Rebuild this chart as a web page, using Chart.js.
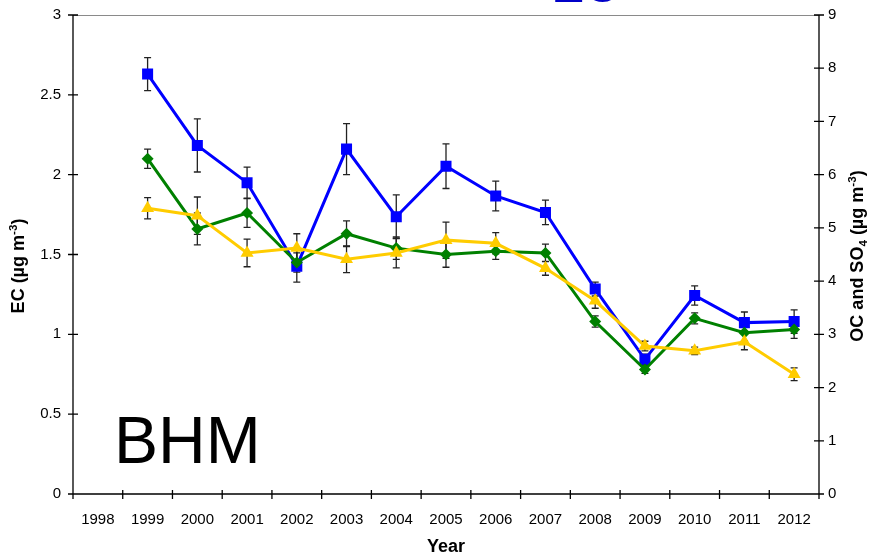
<!DOCTYPE html>
<html>
<head>
<meta charset="utf-8">
<title>BHM</title>
<script src="https://cdn.jsdelivr.net/npm/chart.js@4.4.1/dist/chart.umd.min.js"></script>
<style>
  html, body { margin: 0; padding: 0; background: #fff; }
  #wrap { width: 873px; height: 556px; }
</style>
</head>
<body>
<div id="wrap"><canvas id="bhmChart" width="873" height="556"></canvas></div>
<script>
// ===== DATA =====
const years = ['1998', '1999', '2000', '2001', '2002', '2003', '2004', '2005',
               '2006', '2007', '2008', '2009', '2010', '2011', '2012'];

// EC on the left axis
const ecValues = [null, 2.10, 1.66, 1.76, 1.45, 1.63, 1.54, 1.50, 1.52, 1.51, 1.08, 0.78, 1.10, 1.01, 1.03];
const ecErrors = [null, 0.06, 0.10, 0.09, 0.06, 0.08, 0.07, 0.08, 0.05, 0.055, 0.035, 0.025, 0.035, 0.05, 0.055];

// OC and SO4 on the right axis
const ocValues = [null, 7.89, 6.55, 5.85, 4.28, 6.48, 5.21, 6.16, 5.60, 5.29, 3.85, 2.53, 3.73, 3.22, 3.24];
const ocErrors = [null, 0.31, 0.50, 0.29, 0.30, 0.48, 0.41, 0.42, 0.28, 0.23, 0.13, 0.10, 0.18, 0.20, 0.22];
const so4Values = [null, 5.37, 5.23, 4.53, 4.62, 4.41, 4.53, 4.77, 4.71, 4.24, 3.63, 2.78, 2.69, 2.86, 2.25];
const so4Errors = [null, 0.20, 0.35, 0.26, 0.27, 0.25, 0.28, 0.34, 0.20, 0.13, 0.14, 0.09, 0.07, 0.15, 0.12];

const leftTicks = [0, 0.5, 1, 1.5, 2, 2.5, 3];
const rightTicks = [0, 1, 2, 3, 4, 5, 6, 7, 8, 9];

const FONT = "Arial, 'Liberation Sans', sans-serif";

// ===== HELPERS =====
// draws text made of normal / superscript / subscript pieces, centred on (cx, cy)
function drawRich(ctx, parts, cx, cy, angle, size) {
    ctx.save();
    ctx.translate(cx, cy);
    ctx.rotate(angle);
    ctx.textBaseline = 'alphabetic';
    ctx.textAlign = 'left';
    let total = 0;
    parts.forEach(p => {
        const s = p.sup || p.sub ? size * 0.65 : size;
        ctx.font = 'bold ' + s + 'px ' + FONT;
        p.w = ctx.measureText(p.t).width;
        total += p.w;
    });
    let x = -total / 2;
    const base = size * 0.36;
    parts.forEach(p => {
        const s = p.sup || p.sub ? size * 0.65 : size;
        ctx.font = 'bold ' + s + 'px ' + FONT;
        let dy = 0;
        if (p.sup) dy = -size * 0.42;
        if (p.sub) dy = size * 0.2;
        ctx.fillText(p.t, x, base + dy);
        x += p.w;
    });
    ctx.restore();
}

// ===== PLUGINS =====
const errorBars = {
    id: 'errorBars',
    beforeDatasetsDraw(chart) {
        const ctx = chart.ctx;
        const x = chart.scales.x;
        ctx.save();
        ctx.strokeStyle = '#222';
        ctx.lineWidth = 1.3;
        chart.data.datasets.forEach(ds => {
            const y = chart.scales[ds.yAxisID];
            ds.data.forEach((v, i) => {
                if (v === null || ds.errors[i] === null) return;
                const px = x.getPixelForValue(i);
                const top = y.getPixelForValue(v + ds.errors[i]);
                const bot = y.getPixelForValue(v - ds.errors[i]);
                ctx.beginPath();
                ctx.moveTo(px, top); ctx.lineTo(px, bot);
                ctx.moveTo(px - 3.5, top); ctx.lineTo(px + 3.5, top);
                ctx.moveTo(px - 3.5, bot); ctx.lineTo(px + 3.5, bot);
                ctx.stroke();
            });
        });
        ctx.restore();
    }
};

const frame = {
    id: 'frame',
    afterDraw(chart) {
        const ctx = chart.ctx;
        const a = chart.chartArea;
        const x = chart.scales.x;
        const yl = chart.scales.yLeft;
        const yr = chart.scales.yRight;
        ctx.save();

        // top border
        ctx.strokeStyle = '#8a8a8a';
        ctx.lineWidth = 1;
        ctx.beginPath();
        ctx.moveTo(a.left, a.top + 0.5); ctx.lineTo(a.right, a.top + 0.5);
        ctx.stroke();

        // axes with crossing tick marks
        ctx.strokeStyle = '#000';
        ctx.lineWidth = 1.3;
        ctx.beginPath();
        ctx.moveTo(a.left, a.top); ctx.lineTo(a.left, a.bottom);
        ctx.moveTo(a.right, a.top); ctx.lineTo(a.right, a.bottom);
        ctx.moveTo(a.left, a.bottom); ctx.lineTo(a.right, a.bottom);
        leftTicks.forEach(t => {
            const py = yl.getPixelForValue(t);
            ctx.moveTo(a.left - 5, py); ctx.lineTo(a.left + 5, py);
        });
        rightTicks.forEach(t => {
            const py = yr.getPixelForValue(t);
            ctx.moveTo(a.right - 5, py); ctx.lineTo(a.right + 5, py);
        });
        for (let i = 0; i <= years.length; i++) {
            const px = x.getPixelForValue(i - 0.5);
            ctx.moveTo(px, a.bottom - 4); ctx.lineTo(px, a.bottom + 5);
        }
        ctx.stroke();

        // axis titles
        ctx.fillStyle = '#000';
        ctx.font = 'bold 18px ' + FONT;
        ctx.textAlign = 'center';
        ctx.textBaseline = 'alphabetic';
        ctx.fillText('Year', (a.left + a.right) / 2, 552);

        drawRich(ctx, [{ t: 'EC (µg m' }, { t: '-3', sup: true }, { t: ')' }],
            18, 266, -Math.PI / 2, 18);
        drawRich(ctx, [{ t: 'OC and SO' }, { t: '4', sub: true }, { t: ' (µg m' },
            { t: '-3', sup: true }, { t: ')' }],
            857, 256, -Math.PI / 2, 18);

        // site name
        ctx.font = '66px ' + FONT;
        ctx.textAlign = 'left';
        ctx.fillText('BHM', 114, 463);

        // heading, mostly above the page edge
        ctx.fillStyle = '#0000c8';
        ctx.font = 'bold 48px ' + FONT;
        ctx.fillText('EC', 552, 2);

        ctx.restore();
    }
};

// ===== CHART =====
const ctx = document.getElementById('bhmChart').getContext('2d');

const bhmChart = new Chart(ctx, {
    type: 'line',
    data: {
        labels: years,
        datasets: [{
            label: 'SO4',
            data: so4Values,
            errors: so4Errors,
            yAxisID: 'yRight',
            borderColor: '#ffcc00',
            backgroundColor: '#ffcc00',
            borderWidth: 3,
            pointStyle: 'triangle',
            pointRadius: 7.5,
            pointBorderWidth: 0,
            spanGaps: true
        }, {
            label: 'EC',
            data: ecValues,
            errors: ecErrors,
            yAxisID: 'yLeft',
            borderColor: '#008000',
            backgroundColor: '#008000',
            borderWidth: 3,
            pointStyle: 'rectRot',
            pointRadius: 6,
            pointBorderWidth: 0,
            spanGaps: true
        }, {
            label: 'OC',
            data: ocValues,
            errors: ocErrors,
            yAxisID: 'yRight',
            borderColor: '#0000ff',
            backgroundColor: '#0000ff',
            borderWidth: 3,
            pointStyle: 'rect',
            pointRadius: 7.8,
            pointBorderWidth: 0,
            spanGaps: true
        }]
    },
    options: {
        responsive: false,
        animation: false,
        devicePixelRatio: 1,
        layout: { padding: { top: 15, left: 0, right: 0, bottom: 0 } },
        plugins: {
            legend: { display: false },
            tooltip: { enabled: false }
        },
        elements: { line: { tension: 0 } },
        scales: {
            x: {
                type: 'category',
                offset: true,
                grid: { display: false },
                border: { display: false },
                ticks: {
                    color: '#000',
                    font: { family: FONT, size: 15 },
                    padding: 9,
                    maxRotation: 0,
                    autoSkip: false
                },
                afterFit(scale) { scale.height = 62; }
            },
            yLeft: {
                position: 'left',
                min: 0,
                max: 3,
                grid: { display: false },
                border: { display: false },
                ticks: {
                    stepSize: 0.5,
                    color: '#000',
                    font: { family: FONT, size: 15 },
                    padding: 4,
                    callback: v => String(v)
                },
                afterFit(scale) { scale.width = 73; }
            },
            yRight: {
                position: 'right',
                min: 0,
                max: 9,
                grid: { display: false },
                border: { display: false },
                ticks: {
                    stepSize: 1,
                    color: '#000',
                    font: { family: FONT, size: 15 },
                    padding: 1,
                    callback: v => String(v)
                },
                afterFit(scale) { scale.width = 54; }
            }
        }
    },
    plugins: [errorBars, frame]
});
</script>
</body>
</html>
